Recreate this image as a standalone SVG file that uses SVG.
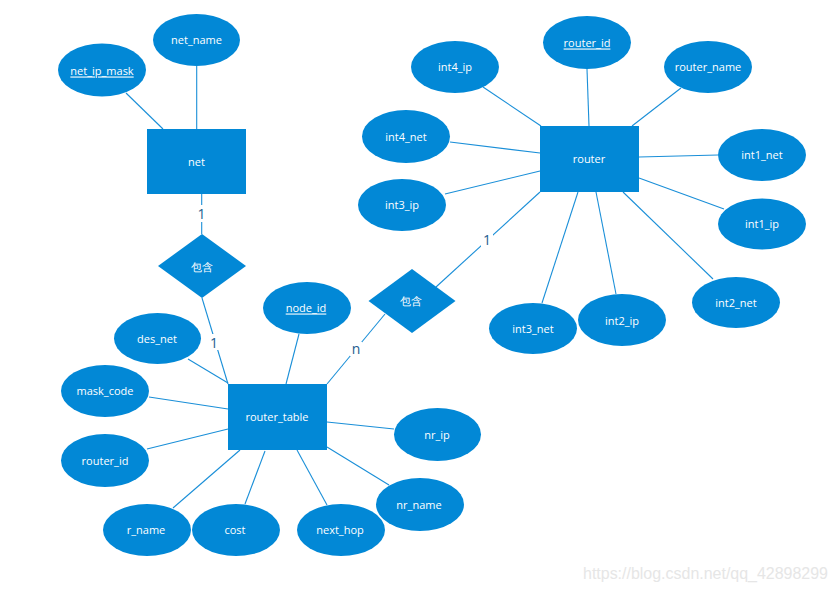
<svg xmlns="http://www.w3.org/2000/svg" width="836" height="591" viewBox="0 0 836 591">
<style>
.s{fill:#0288D6;stroke:none}
.t{fill:#ffffff;font-family:"Open Sans","Noto Sans",sans-serif;font-size:11px;text-anchor:middle;dominant-baseline:central}
.u{text-decoration:underline}
.c line{stroke:#1a8fd8;stroke-width:1.1}
.l{fill:#1d5d8f;font-family:"Open Sans","Noto Sans",sans-serif;font-size:14px;text-anchor:middle;dominant-baseline:central}
.bg{fill:#ffffff}
</style>
<rect width="836" height="591" fill="#ffffff"/>
<g class="c" id="connectors">
<line x1="126" y1="93" x2="163" y2="129"/>
<line x1="196.7" y1="66" x2="196.7" y2="129"/>
<line x1="201.7" y1="194" x2="201.7" y2="234"/>
<line x1="202" y1="298" x2="228" y2="384"/>
<line x1="483" y1="87" x2="541" y2="126"/>
<line x1="587" y1="69" x2="589" y2="126"/>
<line x1="681" y1="88" x2="632" y2="126"/>
<line x1="450" y1="142" x2="540" y2="153"/>
<line x1="639" y1="157" x2="718" y2="155"/>
<line x1="445" y1="194" x2="540" y2="171"/>
<line x1="639" y1="178" x2="724" y2="209"/>
<line x1="540" y1="192" x2="436" y2="287"/>
<line x1="578" y1="192" x2="542" y2="303"/>
<line x1="596" y1="192" x2="616" y2="294"/>
<line x1="623" y1="192" x2="713" y2="279"/>
<line x1="299" y1="334" x2="286" y2="384"/>
<line x1="385" y1="314" x2="327" y2="384"/>
<line x1="188" y1="359" x2="228" y2="383"/>
<line x1="149" y1="397" x2="228" y2="409"/>
<line x1="147" y1="449" x2="228" y2="429"/>
<line x1="173" y1="508" x2="240" y2="450"/>
<line x1="245" y1="504" x2="265" y2="451"/>
<line x1="327" y1="505" x2="297" y2="450"/>
<line x1="389" y1="485" x2="327" y2="447"/>
<line x1="327" y1="422" x2="394" y2="429"/>
</g>
<g id="labels">
<rect class="bg" x="195" y="205" width="13" height="17"/>
<text class="l" x="201.5" y="213.5">1</text>
<rect class="bg" x="208" y="334" width="12" height="16"/>
<text class="l" x="214" y="342">1</text>
<rect class="bg" x="481" y="231" width="12" height="16"/>
<text class="l" x="487" y="239">1</text>
<rect class="bg" x="350" y="342" width="12" height="14"/>
<text class="l" x="356" y="348">n</text>
</g>
<g id="net"><rect class="s" x="147" y="129" width="99" height="65"/><text class="t" x="196.5" y="161.5">net</text></g>
<g id="net_ip_mask"><ellipse class="s" cx="102" cy="70" rx="44" ry="26.5"/><text class="t u" x="102" y="70">net_ip_mask</text></g>
<g id="net_name"><ellipse class="s" cx="196.5" cy="40" rx="43.5" ry="26"/><text class="t" x="196.5" y="39">net_name</text></g>
<g id="contain1"><polygon class="s" points="202,234 246,266 202,298 158,266"/><text class="t" x="202" y="266" font-family="Noto Sans CJK SC,sans-serif">包含</text></g>
<g id="router"><rect class="s" x="540" y="126" width="99" height="66"/><text class="t" x="589" y="158">router</text></g>
<g id="router_id_r"><ellipse class="s" cx="587" cy="42.5" rx="44" ry="26.5"/><text class="t u" x="587" y="42">router_id</text></g>
<g id="int4_ip"><ellipse class="s" cx="455" cy="67" rx="44" ry="26"/><text class="t" x="455" y="66">int4_ip</text></g>
<g id="router_name"><ellipse class="s" cx="708" cy="67" rx="44" ry="26"/><text class="t" x="708" y="66">router_name</text></g>
<g id="int4_net"><ellipse class="s" cx="406" cy="136.5" rx="44" ry="26.5"/><text class="t" x="406" y="136">int4_net</text></g>
<g id="int1_net"><ellipse class="s" cx="762" cy="155" rx="44" ry="26"/><text class="t" x="762" y="154">int1_net</text></g>
<g id="int3_ip"><ellipse class="s" cx="402" cy="205" rx="44" ry="26"/><text class="t" x="402" y="204">int3_ip</text></g>
<g id="int1_ip"><ellipse class="s" cx="762" cy="224" rx="44" ry="25.5"/><text class="t" x="762" y="223">int1_ip</text></g>
<g id="int3_net"><ellipse class="s" cx="533" cy="328.5" rx="44" ry="25.5"/><text class="t" x="533" y="328">int3_net</text></g>
<g id="int2_ip"><ellipse class="s" cx="622" cy="320" rx="44" ry="26"/><text class="t" x="622" y="320">int2_ip</text></g>
<g id="int2_net"><ellipse class="s" cx="736" cy="302.5" rx="44" ry="25.5"/><text class="t" x="736" y="302">int2_net</text></g>
<g id="contain2"><polygon class="s" points="412,269 455.5,301 412,333 368.5,301"/><text class="t" x="411" y="300" font-family="Noto Sans CJK SC,sans-serif">包含</text></g>
<g id="router_table"><rect class="s" x="228" y="384" width="99" height="66"/><text class="t" x="277" y="416">router_table</text></g>
<g id="node_id"><ellipse class="s" cx="307" cy="308" rx="44" ry="26"/><text class="t u" x="306" y="307">node_id</text></g>
<g id="des_net"><ellipse class="s" cx="157.5" cy="338.5" rx="43.5" ry="25.5"/><text class="t" x="157" y="338">des_net</text></g>
<g id="mask_code"><ellipse class="s" cx="105" cy="391" rx="44" ry="26"/><text class="t" x="105" y="390">mask_code</text></g>
<g id="router_id"><ellipse class="s" cx="105" cy="460.5" rx="44" ry="26.5"/><text class="t" x="105" y="460">router_id</text></g>
<g id="r_name"><ellipse class="s" cx="147" cy="530" rx="44" ry="26"/><text class="t" x="146" y="529">r_name</text></g>
<g id="cost"><ellipse class="s" cx="236" cy="530" rx="44" ry="26"/><text class="t" x="235" y="529">cost</text></g>
<g id="next_hop"><ellipse class="s" cx="341" cy="530" rx="44" ry="26"/><text class="t" x="340" y="529">next_hop</text></g>
<g id="nr_name"><ellipse class="s" cx="420" cy="504.5" rx="44" ry="26.5"/><text class="t" x="419" y="504">nr_name</text></g>
<g id="nr_ip"><ellipse class="s" cx="437.5" cy="434.5" rx="43.5" ry="26.5"/><text class="t" x="437" y="434">nr_ip</text></g>
<text x="583" y="579" fill="#e6e6e6" font-family="Liberation Sans,Arial,sans-serif" font-size="16" textLength="245" lengthAdjust="spacingAndGlyphs">https://blog.csdn.net/qq_42898299</text>
</svg>
